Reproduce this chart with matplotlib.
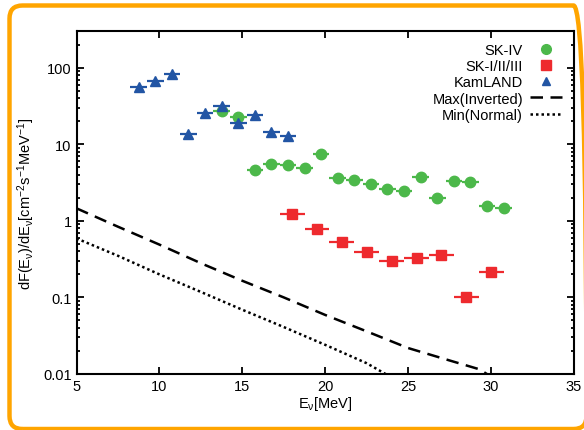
import numpy as np
import matplotlib
matplotlib.use('Agg')
import matplotlib.pyplot as plt
from matplotlib.patches import FancyBboxPatch
from matplotlib.lines import Line2D
from matplotlib.ticker import FixedLocator, FuncFormatter, LogLocator, NullFormatter

plt.rcParams['font.family'] = ['Liberation Sans', 'DejaVu Sans']
plt.rcParams['mathtext.fontset'] = 'custom'
plt.rcParams['mathtext.rm'] = 'Liberation Sans'
plt.rcParams['mathtext.it'] = 'Liberation Sans'
plt.rcParams['mathtext.default'] = 'regular'

# KamLAND
kam_e = [8.75, 9.75, 10.75, 11.75, 12.75, 13.75, 14.75, 15.75, 16.75, 17.75]
kam_f = [55.9, 67.6, 83.4, 13.8, 25.9, 32.0, 19.0, 24.1, 14.6, 12.9]

# SK-IV
sk4_e = [13.75, 14.75, 15.75, 16.75, 17.75, 18.75, 19.75, 20.75, 21.75,
         22.75, 23.75, 24.75, 25.75, 26.75, 27.75, 28.75, 29.75, 30.75]
sk4_f = [27.2, 22.5, 4.58, 5.53, 5.43, 4.86, 7.55, 3.6, 3.39,
         3.03, 2.64, 2.49, 3.78, 2.0, 3.32, 3.22, 1.58, 1.49]

# SK-I/II/III
sk123_e = [18.0, 19.5, 21.0, 22.5, 24.0, 25.5, 27.0, 28.5, 30.0]
sk123_f = [1.22, 0.785, 0.538, 0.398, 0.295, 0.329, 0.356, 0.10, 0.218]

# model curves
max_e = [5, 7.5, 10, 12.5, 15, 17.5, 20, 22.5, 25, 27.5, 29.3, 30]
max_f = [1.46, 0.84, 0.49, 0.28, 0.165, 0.10, 0.059, 0.036, 0.0218, 0.0150, 0.0115, 0.0092]
min_e = [5, 7.5, 10, 12.5, 15, 17.5, 20, 22.5, 24]
min_f = [0.59, 0.35, 0.20, 0.118, 0.069, 0.041, 0.024, 0.0138, 0.009]

green = '#4cb84a'
red = '#ee2a2e'
blue = '#2255a4'

fig = plt.figure(figsize=(5.84, 4.31), dpi=100)
ax = fig.add_axes([0.131, 0.130, 0.852, 0.795])

ax.errorbar(sk4_e, sk4_f, xerr=0.5, fmt='o', color=green, ms=7.5, elinewidth=1.6,
            capsize=0, zorder=3)
ax.errorbar(sk123_e, sk123_f, xerr=0.75, fmt='s', color=red, ms=7.5, elinewidth=1.6,
            capsize=0, zorder=3)
ax.errorbar(kam_e, kam_f, xerr=0.5, fmt='^', color=blue, ms=6.5, elinewidth=1.6,
            capsize=0, zorder=4)
ax.plot(max_e, max_f, color='black', lw=1.8, dashes=(5, 3))
ax.plot(min_e, min_f, color='black', lw=1.8, dashes=(1, 1.2))

ax.set_yscale('log')
ax.set_xlim(5, 35)
ax.set_ylim(0.01, 300)
ax.xaxis.set_major_locator(FixedLocator([5, 10, 15, 20, 25, 30, 35]))
ax.yaxis.set_major_locator(FixedLocator([0.01, 0.1, 1, 10, 100]))
ax.yaxis.set_major_formatter(FuncFormatter(lambda v, p: '%g' % v))
ax.yaxis.set_minor_locator(LogLocator(base=10, subs=np.arange(2, 10)))
ax.yaxis.set_minor_formatter(NullFormatter())
ax.tick_params(which='both', direction='in', top=True, right=True, labelsize=10.5, width=1.3)
ax.tick_params(which='major', length=5)
ax.tick_params(which='minor', length=2.5)
for s in ax.spines.values():
    s.set_linewidth(1.5)

ax.set_xlabel(r'E$_{ν}$[MeV]', fontsize=10.5, labelpad=1)
ax.set_ylabel(r'dF(E$_{ν}$)/dE$_{ν}$[cm$^{-2}$s$^{-1}$MeV$^{-1}$]', fontsize=10.5, labelpad=4)

handles = [
    Line2D([], [], ls='none', marker='o', color=green, ms=7),
    Line2D([], [], ls='none', marker='s', color=red, ms=6.5),
    Line2D([], [], ls='none', marker='^', color=blue, ms=6),
    Line2D([], [], color='black', lw=1.8, dashes=(5, 3)),
    Line2D([], [], color='black', lw=1.8, dashes=(1, 1.2)),
]
labels = ['SK-IV', 'SK-I/II/III', 'KamLAND', 'Max(Inverted)', 'Min(Normal)']
ax.legend(handles, labels, loc='upper right', frameon=False, markerfirst=False,
          fontsize=10.5, handlelength=2.2, handletextpad=0.5, labelspacing=0.15,
          borderaxespad=0.7, borderpad=0.1)

# rounded orange frame around the whole picture
frame = FancyBboxPatch((9.5, 1.0), 577, 423.5, boxstyle='round,pad=0,rounding_size=13',
                       transform=None, fill=False, edgecolor='#ffa500', lw=3.2)
fig.patches.append(frame)

fig.savefig('out.png', dpi=100)
